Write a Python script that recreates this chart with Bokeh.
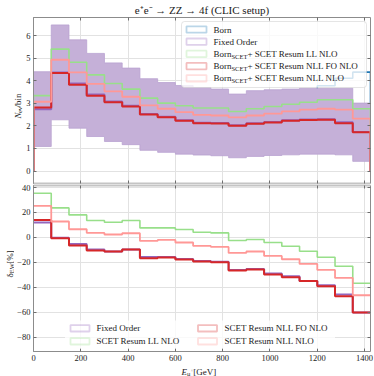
import math
from bokeh.plotting import figure
from bokeh.models import Range1d, LinearAxis, FixedTicker, Label, BoxAnnotation
from bokeh.layouts import column, row
from bokeh.core.properties import value
from bokeh.embed import file_html
from bokeh.resources import INLINE

# ---------------- data ----------------
bin_edges = [0, 75, 150, 225, 300, 375, 450, 525, 600, 675, 750, 825, 900,
             975, 1050, 1125, 1200, 1275, 1350, 1425]

# events per bin (upper panel)
born = [2.45, 4.38, 4.10, 3.76, 3.48, 3.20, 3.00, 2.85, 2.72, 2.64, 2.65, 2.75,
        2.84, 3.06, 3.27, 3.50, 3.78, 4.11, 4.38]
fixed_order = [2.74, 4.37, 3.88, 3.39, 3.08, 2.89, 2.53, 2.40, 2.25, 2.14, 2.13,
               2.03, 2.12, 2.17, 2.25, 2.28, 2.29, 2.16, 1.73]
fixed_order_low = [1.09, 2.27, 1.90, 1.53, 1.31, 1.17, 0.92, 0.83, 0.75, 0.71,
                   0.68, 0.59, 0.65, 0.69, 0.72, 0.75, 0.75, 0.72, 0.43]
fixed_order_high = [4.40, 6.47, 5.81, 5.21, 4.79, 4.56, 4.09, 3.92, 3.79, 3.70,
                    3.63, 3.41, 3.56, 3.60, 3.63, 3.67, 3.67, 3.67, 3.01]
resum_ll_nlo = [3.34, 5.40, 4.82, 4.26, 3.88, 3.63, 3.23, 3.01, 2.89, 2.79, 2.79,
                2.64, 2.76, 2.86, 2.96, 3.05, 3.16, 3.16, 2.76]
resum_nll_fo_nlo = [2.82, 4.34, 3.82, 3.33, 3.05, 2.86, 2.51, 2.38, 2.23, 2.12,
                    2.11, 2.01, 2.10, 2.15, 2.23, 2.26, 2.27, 2.12, 1.72]
resum_nll_nlo = [3.07, 4.93, 4.37, 3.86, 3.53, 3.29, 2.91, 2.76, 2.61, 2.49, 2.46,
                 2.38, 2.46, 2.54, 2.64, 2.72, 2.76, 2.72, 2.32]

# relative EW corrections in % (lower panel)
delta_fixed_order = [11.8, -0.3, -5.3, -9.8, -11.4, -9.8, -15.7, -15.7, -17.3,
                     -18.9, -19.5, -26.1, -25.3, -29.0, -31.2, -34.9, -38.4,
                     -45.8, -60.2]
delta_ll_nlo = [35.2, 23.5, 17.9, 13.4, 12.0, 13.4, 7.5, 7.5, 6.2, 4.0, 3.5,
                -2.6, -1.8, -4.2, -7.2, -11.2, -16.0, -23.2, -36.8]
delta_nll_fo_nlo = [13.9, -0.8, -6.6, -10.6, -11.4, -9.8, -16.8, -16.2, -17.8,
                    -19.4, -20.0, -26.6, -25.8, -29.8, -32.0, -34.9, -39.2,
                    -47.2, -60.2]
delta_nll_nlo = [25.1, 12.6, 6.4, 3.5, 2.2, 3.2, -2.9, -2.1, -4.2, -6.9, -7.7,
                 -12.5, -11.4, -14.9, -17.6, -21.3, -26.1, -32.5, -46.4]

x_ticks = [0, 200, 400, 600, 800, 1000, 1200, 1400]
x_tick_labels = ["0", "200", "400", "600", "800", "1000", "1200", "1400"]
top_y_ticks = [0, 1, 2, 3, 4, 5, 6]
top_y_tick_labels = ["0", "1", "2", "3", "4", "5", "6"]
bottom_y_ticks = [-80, -60, -40, -20, 0, 20, 40]
bottom_y_tick_labels = ["\u221280", "\u221260", "\u221240", "\u221220", "0", "20", "40"]

title_text = "e\u207ae\u207b \u2192 ZZ \u2192 4f (CLIC setup)"

# ---------------- style / geometry ----------------
SERIF = "Liberation Serif"
TXT = "#1a1a1a"
C_BORN = "#1f77b4"
C_FO = "#9467bd"
C_BAND = "#c5b0d8"
C_LL = "#98df8a"
C_NLLFO = "#d62728"
C_NLL = "#ff9896"

FW, FH1, FH2 = 337, 166, 166
LA, MLA = 23, 8            # upper row: title strip + left border  (spine at 31)
LB, MLB = 14, 17           # lower row
MR = 6
TOPB, BOTB, XLAB_H = 16, 12, 14
H1 = TOPB + FH1 + 1
H2 = 1 + FH2 + BOTB
TOTAL_W = LA + MLA + FW + MR
X0, X1 = 0, 1425
YA0, YA1 = -0.55, 6.8
YB0, YB1 = -91.4, 41.4


def stairs(edges, vals, baseline=None):
    xs, ys = [], []
    if baseline is not None:
        xs.append(edges[0]); ys.append(baseline)
    for i, v in enumerate(vals):
        xs += [edges[i], edges[i + 1]]
        ys += [v, v]
    if baseline is not None:
        xs.append(edges[-1]); ys.append(baseline)
    return xs, ys


def dx(px):
    return X0 + px * (X1 - X0) / FW


def dyA(px_from_top):
    return YA1 - px_from_top * (YA1 - YA0) / FH1


def dyB(px_from_bottom):
    return YB0 + px_from_bottom * (YB1 - YB0) / FH2


def make_fig(fh, y0, y1, left, top, bottom, title=None):
    kw = dict(frame_width=FW, frame_height=fh, x_range=Range1d(X0, X1),
              y_range=Range1d(y0, y1), output_backend="svg",
              toolbar_location=None, min_border_left=left, min_border_right=MR,
              min_border_top=top, min_border_bottom=bottom,
              outline_line_color=None, background_fill_color="white",
              border_fill_color="white")
    if title:
        kw["title"] = title
    p = figure(**kw)
    p.xgrid.ticker = FixedTicker(ticks=x_ticks)
    p.xgrid.grid_line_color = "#e2e2e2"
    return p


def make_strip(w, h):
    s = figure(width=w, height=h, x_range=Range1d(0, w), y_range=Range1d(0, h),
               output_backend="svg", toolbar_location=None, min_border=0,
               x_axis_location=None, y_axis_location=None,
               outline_line_color=None, background_fill_color="white",
               border_fill_color="white")
    s.xgrid.visible = False
    s.ygrid.visible = False
    return s


def style_axis(ax, ticks, labels=None, line_color="#8c8c8c", line_width=1):
    ax.ticker = FixedTicker(ticks=ticks)
    ax.minor_tick_line_color = None
    ax.major_tick_in = 3
    ax.major_tick_out = 0
    ax.major_tick_line_color = "#6e6e6e"
    ax.axis_line_color = line_color
    ax.axis_line_width = line_width
    if labels is None:
        ax.major_label_text_color = None
        ax.major_label_text_font_size = "1px"
        ax.major_label_standoff = 0
    else:
        ax.major_label_overrides = {t: l for t, l in zip(ticks, labels)}
        ax.major_label_text_font = SERIF
        ax.major_label_text_font_size = "8.5px"
        ax.major_label_text_color = TXT
        ax.major_label_standoff = 3


def label(p, x, y, text, size, xo=0, yo=0, style="normal"):
    p.add_layout(Label(x=x, y=y, x_offset=xo, y_offset=yo, text=text,
                       text_font=SERIF, text_font_size=f"{size}px",
                       text_font_style=style, text_color=TXT,
                       text_align="left", text_baseline="middle"))


def gtext(s, x, y, text, size, style="normal", angle=0.0):
    s.text(x=[x], y=[y], text=[text], angle=angle,
           text_font=value(SERIF), text_font_size=value(f"{size}px"),
           text_font_style=value(style), text_color=TXT,
           text_align=value("left"), text_baseline=value("alphabetic"))


# width (px) of text pieces that are followed by another piece
piece_w = {"Born": 18.0, "SCET": 15.9, "N": 6.0, "ev": 6.1, "\u03b4": 4.6,
           "EW": 10.1, "E": 5.5, "\u03bc": 3.3, "+": 2.8}

# ---------------- upper panel ----------------
p1 = make_fig(FH1, YA0, YA1, MLA, TOPB, 1, title=title_text)
p1.title.text_font = SERIF
p1.title.text_font_size = "11px"
p1.title.text_font_style = "normal"
p1.title.text_color = TXT
p1.title.align = "center"
p1.title.standoff = 3
p1.ygrid.ticker = FixedTicker(ticks=top_y_ticks)
p1.ygrid.grid_line_color = "#e2e2e2"

ax1_below = p1.below[0]
ax1_left = p1.left[0]
ax1_above = LinearAxis(); p1.add_layout(ax1_above, "above")
ax1_right = LinearAxis(); p1.add_layout(ax1_right, "right")
style_axis(ax1_below, x_ticks, None, "#c4c4c4", 2)
style_axis(ax1_above, x_ticks, None)
style_axis(ax1_left, top_y_ticks, top_y_tick_labels)
style_axis(ax1_right, top_y_ticks, None)

xs, ys = stairs(bin_edges, born, 0)
p1.line(xs, ys, line_color=C_BORN, line_width=1.6)
xh, yh = stairs(bin_edges, fixed_order_high)
xl, yl = stairs(bin_edges, fixed_order_low)
p1.patch(xh + xl[::-1], yh + yl[::-1], fill_color=C_BAND, fill_alpha=1.0,
         line_color="#b9a2d1", line_width=0.8)
for vals, col, lw in [(fixed_order, C_FO, 2.0), (resum_ll_nlo, C_LL, 1.6),
                      (resum_nll_fo_nlo, C_NLLFO, 2.0), (resum_nll_nlo, C_NLL, 1.8)]:
    xs, ys = stairs(bin_edges, vals, 0)
    p1.line(xs, ys, line_color=col, line_width=lw)

# legend (upper right)
p1.add_layout(BoxAnnotation(left=dx(FW - 189), right=dx(FW - 4), top=dyA(4),
                            bottom=dyA(70), fill_color="white", fill_alpha=0.8,
                            line_color="#cccccc", line_alpha=0.5, line_width=1,
                            border_radius=3))
top_rows = [12, 24.2, 36.4, 48.6, 60.8]
top_entries = [
    (C_BORN, [("Born", 9, 0)]),
    (C_FO, [("Fixed Order", 9, 0)]),
    (C_LL, [("Born", 9, 0), ("SCET", 6.5, 1), (" + SCET Resum LL NLO", 9, 0)]),
    (C_NLLFO, [("Born", 9, 0), ("SCET", 6.5, 1), (" + SCET Resum NLL FO NLO", 9, 0)]),
    (C_NLL, [("Born", 9, 0), ("SCET", 6.5, 1), (" + SCET Resum NLL NLO", 9, 0)]),
]
for r, (col, parts) in zip(top_rows, top_entries):
    p1.add_layout(BoxAnnotation(left=dx(FW - 184), right=dx(FW - 164),
                                top=dyA(r - 3.2), bottom=dyA(r + 3.2),
                                fill_alpha=0, line_color=col, line_width=1.8))
    off = 0
    for text, size, sub in parts:
        label(p1, dx(FW - 157), dyA(r), text, size, xo=off, yo=-2.6 if sub else 0)
        off += piece_w.get(text, 0)

# ---------------- lower panel ----------------
p2 = make_fig(FH2, YB0, YB1, MLB, 1, BOTB)
p2.ygrid.ticker = FixedTicker(ticks=bottom_y_ticks)
p2.ygrid.grid_line_color = "#e2e2e2"
ax2_below = p2.below[0]
ax2_left = p2.left[0]
ax2_above = LinearAxis(); p2.add_layout(ax2_above, "above")
ax2_right = LinearAxis(); p2.add_layout(ax2_right, "right")
style_axis(ax2_below, x_ticks, x_tick_labels)
style_axis(ax2_above, x_ticks, None, "#c4c4c4", 2)
style_axis(ax2_left, bottom_y_ticks, bottom_y_tick_labels)
style_axis(ax2_right, bottom_y_ticks, None)

for vals, col, lw in [(delta_fixed_order, C_FO, 2.0), (delta_ll_nlo, C_LL, 1.6),
                      (delta_nll_fo_nlo, C_NLLFO, 2.0), (delta_nll_nlo, C_NLL, 1.8)]:
    xs, ys = stairs(bin_edges, vals)
    p2.line(xs, ys, line_color=col, line_width=lw)

FC = FW / 2
p2.add_layout(BoxAnnotation(left=dx(FC - 137), right=dx(FC + 133), top=dyB(31),
                            bottom=dyB(3), fill_color="white", fill_alpha=0.8,
                            line_alpha=0.0, border_radius=3))
bottom_entries = [
    (C_FO, "Fixed Order", -131.5, -105.5, 23.2),
    (C_LL, "SCET Resum LL NLO", -131.5, -105.5, 10.2),
    (C_NLLFO, "SCET Resum NLL FO NLO", -4, 22.5, 23.2),
    (C_NLL, "SCET Resum NLL NLO", -4, 22.5, 10.2),
]
for col, text, sx, tx, r in bottom_entries:
    p2.add_layout(BoxAnnotation(left=dx(FC + sx), right=dx(FC + sx + 19),
                                top=dyB(r + 3.2), bottom=dyB(r - 3.2),
                                fill_alpha=0, line_color=col, line_width=1.8))
    label(p2, dx(FC + tx), dyB(r), text, 9)

# ---------------- axis-title strips ----------------
# upper y title: N_ev/bin (rotated, reading upwards)
sA = make_strip(LA, H1)
ycA = H1 - (TOPB + FH1 / 2)
start = -(6.0 + 6.1 + 14.0) / 2
for text, size, st, sub in [("N", 9, "italic", 0), ("ev", 6.5, "normal", 1),
                            ("/bin", 9, "normal", 0)]:
    gtext(sA, 17.0 + (2.2 if sub else 0), ycA + start, text, size, st, math.pi / 2)
    start += piece_w.get(text, 0)

# lower y title: delta_EW [%]
sB = make_strip(LB, H2)
ycB = H2 - (1 + FH2 / 2)
start = -(4.6 + 10.1 + 15.7) / 2
for text, size, sub in [("\u03b4", 9, 0), ("EW", 6.5, 1), (" [%]", 9, 0)]:
    gtext(sB, 9 + (2.2 if sub else 0), ycB + start, text, size, "normal", math.pi / 2)
    start += piece_w.get(text, 0)

# x title: E_mu+ [GeV]
sX = make_strip(TOTAL_W, XLAB_H)
xcX = LA + MLA + FW / 2
start = -(5.5 + 3.3 + 2.8 + 25.2) / 2
for text, size, st, shift in [("E", 9, "italic", 0), ("\u03bc", 6.5, "normal", -1.8),
                              ("+", 5, "normal", 0.8), (" [GeV]", 9, "normal", 0)]:
    gtext(sX, xcX + start, 6 + shift, text, size, st)
    start += piece_w.get(text, 0)

layout = column(row(sA, p1, spacing=0), row(sB, p2, spacing=0), sX, spacing=0)
open("out.html", "w").write(file_html(layout, INLINE))
